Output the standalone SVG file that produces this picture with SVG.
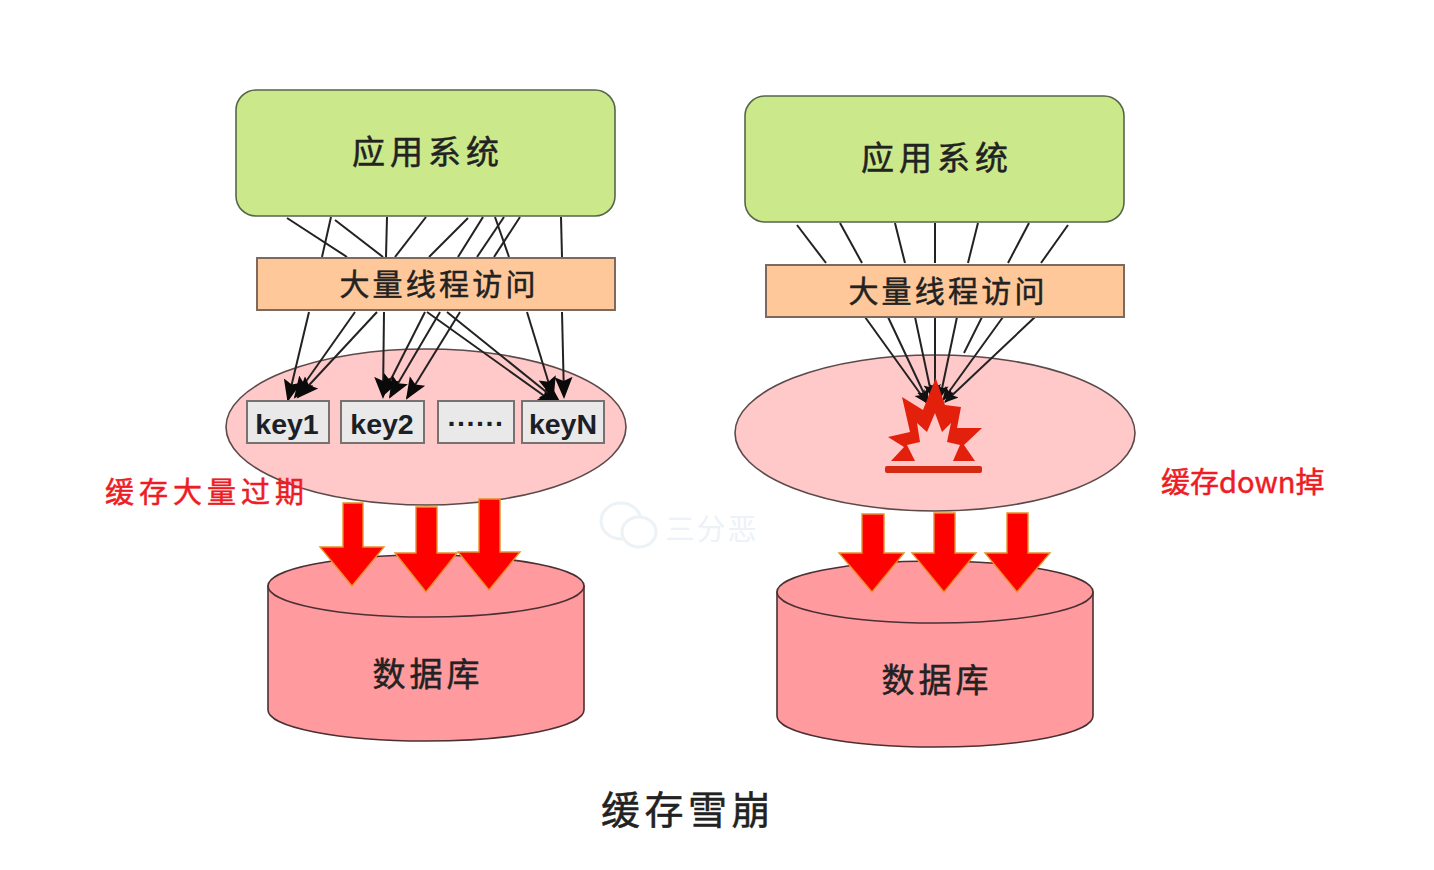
<svg xmlns="http://www.w3.org/2000/svg" width="1434" height="870" viewBox="0 0 1434 870">
<style>
text{font-family:"Noto Sans CJK SC","Noto Sans",sans-serif;fill:#222;text-anchor:middle;stroke:#222;stroke-width:.5}
.app{fill:#cbe98a;stroke:#55664a;stroke-width:1.6}
.thr{fill:#ffc89a;stroke:#7d6a5c;stroke-width:2}
.cache{fill:#ffc9c9;stroke:#5c4a4a;stroke-width:1.6}
.db{fill:#ff9a9e;stroke:#4a3033;stroke-width:1.6}
.key{fill:#e9e9e9;stroke:#77716f;stroke-width:2}
text.k{font-family:"Liberation Sans",Arial,sans-serif;font-size:28.5px;font-weight:bold;fill:#1b2026;stroke:none}
.a{font-size:33px;letter-spacing:5px}
.t{font-size:30px;letter-spacing:3.2px}
.d{font-size:33px;letter-spacing:4px}
text.r{font-size:29px;fill:#ee1c25;stroke:#ee1c25;text-anchor:start}
.blk{fill:#fe0000;stroke:#e8902a;stroke-width:1.4;stroke-linejoin:miter}
.c line{stroke:#222;stroke-width:2}
#low-left line{marker-end:url(#h)}
#low-right line{marker-end:url(#s)}
</style>
<defs>
<marker id="h" markerUnits="userSpaceOnUse" markerWidth="24" markerHeight="24" refX="20" refY="10" orient="auto"><path d="M0 1L22 10L0 19L4 10Z" fill="#0a0a0a"/></marker>
<marker id="s" markerUnits="userSpaceOnUse" markerWidth="16" markerHeight="16" refX="13" refY="6" orient="auto"><path d="M0 0L14 6L0 12L3 6Z" fill="#111"/></marker>
</defs>
<rect width="1434" height="870" fill="#fff"/>

<g id="cache-left"><ellipse class="cache" cx="426" cy="427" rx="200" ry="78"/></g>
<g id="cache-right"><ellipse class="cache" cx="935" cy="433" rx="200" ry="78"/></g>

<g id="connectors" class="c">
<g id="top-left">
<line x1="287" y1="218" x2="347" y2="257"/><line x1="331" y1="217" x2="322" y2="257"/><line x1="335" y1="220" x2="383" y2="257"/><line x1="387" y1="217" x2="386" y2="257"/><line x1="426" y1="217" x2="395" y2="257"/><line x1="468" y1="218" x2="429" y2="257"/><line x1="483" y1="217" x2="458" y2="257"/><line x1="504" y1="217" x2="477" y2="257"/><line x1="520" y1="217" x2="494" y2="257"/><line x1="495" y1="217" x2="509" y2="257"/><line x1="561" y1="217" x2="562" y2="257"/>
</g>
<g id="low-left">
<line x1="309" y1="312" x2="288" y2="400"/><line x1="355" y1="312" x2="295" y2="397"/><line x1="377" y1="312" x2="298" y2="397"/><line x1="384" y1="312" x2="383" y2="397"/><line x1="425" y1="312" x2="383" y2="395"/><line x1="440" y1="312" x2="390" y2="397"/><line x1="460" y1="312" x2="407" y2="398"/><line x1="427" y1="312" x2="557" y2="405"/><line x1="447" y1="312" x2="560" y2="403"/><line x1="527" y1="312" x2="553" y2="397"/><line x1="562" y1="312" x2="564" y2="397"/>
</g>
<g id="top-right">
<line x1="797" y1="225" x2="826" y2="263"/><line x1="840" y1="223" x2="862" y2="263"/><line x1="895" y1="223" x2="905" y2="263"/><line x1="935" y1="223" x2="935" y2="263"/><line x1="978" y1="223" x2="968" y2="263"/><line x1="1029" y1="223" x2="1008" y2="263"/><line x1="1068" y1="225" x2="1041" y2="263"/>
</g>
<g id="low-right">
<line x1="865" y1="317" x2="927" y2="403"/><line x1="888" y1="317" x2="928" y2="402"/><line x1="915" y1="317" x2="932" y2="397"/><line x1="935" y1="317" x2="935" y2="397"/><line x1="957" y1="317" x2="940" y2="398"/><line x1="1003" y1="317" x2="943" y2="400"/><line x1="1035" y1="317" x2="945" y2="402"/>
</g>
<line x1="982" y1="317" x2="964" y2="353"/>
</g>

<g id="app-left"><rect class="app" x="236" y="90" width="379" height="126" rx="20"/><text class="a" x="428" y="164">应用系统</text></g>
<g id="app-right"><rect class="app" x="745" y="96" width="379" height="126" rx="20"/><text class="a" x="937" y="170">应用系统</text></g>
<g id="threads-left"><rect class="thr" x="257" y="258" width="358" height="52"/><text class="t" x="439" y="295">大量线程访问</text></g>
<g id="threads-right"><rect class="thr" x="766" y="265" width="358" height="52"/><text class="t" x="948" y="302">大量线程访问</text></g>

<g id="key1"><rect class="key" x="247" y="401" width="82" height="42"/><text class="k" x="287" y="434">key1</text></g>
<g id="key2"><rect class="key" x="341" y="401" width="83" height="42"/><text class="k" x="382" y="434">key2</text></g>
<g id="keydots"><rect class="key" x="438" y="401" width="76" height="42"/><text class="k" x="476" y="433">······</text></g>
<g id="keyN"><rect class="key" x="522" y="401" width="82" height="42"/><text class="k" x="563" y="434">keyN</text></g>

<g id="explosion">
<path fill="#e2200c" d="M935.7 378L945 405L961 407L957 428L982 428L964 445L975 461L953 461L960 445L947 442L951 423L942 432L935 413L927 432L917 423L920 442L907 445L915 461L891 461L904 447L888 437L910 432L902 397L923 410Z"/>
<rect x="885" y="466" width="97" height="7" rx="2" fill="#d42a14"/>
</g>

<g id="db-left"><path class="db" d="M268 586V710A158 31 0 0 0 584 710V586Z"/><ellipse class="db" cx="426" cy="586" rx="158" ry="31"/><text class="d" x="428" y="686">数据库</text></g>
<g id="db-right"><path class="db" d="M777 592V716A158 31 0 0 0 1093 716V592Z"/><ellipse class="db" cx="935" cy="592" rx="158" ry="31"/><text class="d" x="937" y="692">数据库</text></g>

<g id="block-arrows">
<path class="blk" d="M343 503H363V547H384L352 586L320 547H343Z"/>
<path class="blk" d="M416 507H437V553H457L426 592L395 553H416Z"/>
<path class="blk" d="M479 499H500V552H520L489 590L458 552H479Z"/>
<path class="blk" d="M862 514H884V553H904L872 592L839 553H862Z"/>
<path class="blk" d="M934 513H955V553H976L944 592L912 553H934Z"/>
<path class="blk" d="M1007 513H1028V553H1050L1017 592L985 553H1007Z"/>
</g>

<g id="label-left"><text class="r" x="105" y="503" style="letter-spacing:5px">缓存大量过期</text></g>
<g id="label-right"><text class="r" x="1161" y="493">缓存down掉</text></g>
<g id="title"><text x="688" y="824" style="font-size:39px;letter-spacing:4.5px">缓存雪崩</text></g>

<g id="watermark" opacity="0.55">
<ellipse cx="621" cy="521" rx="20" ry="18" fill="#fff" stroke="#dde8f0" stroke-width="3"/>
<ellipse cx="639" cy="532" rx="17" ry="15" fill="#fff" stroke="#dde8f0" stroke-width="3"/>
<text x="712" y="540" style="font-size:29px;fill:#dde8f2;stroke:none;letter-spacing:2px">三分恶</text>
</g>
</svg>
